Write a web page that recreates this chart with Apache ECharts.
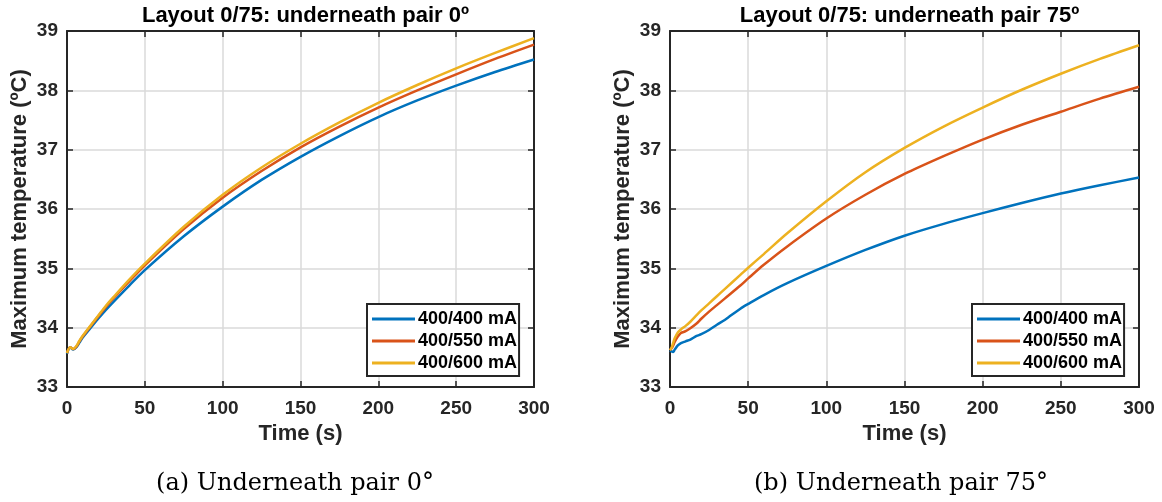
<!DOCTYPE html>
<html>
<head>
<meta charset="utf-8">
<script src="https://cdn.jsdelivr.net/npm/echarts@6/dist/echarts.min.js"></script>
<style>html,body{margin:0;padding:0;background:#fff}#c{width:1162px;height:502px}</style>
</head>
<body>
<div id="c"></div>
<script>
// ---- data ----
const seriesNames = ['400/400 mA', '400/550 mA', '400/600 mA'];
const xTicks = [0, 50, 100, 150, 200, 250, 300];
const yTicks = [33, 34, 35, 36, 37, 38, 39];
const titles = ['Layout 0/75: underneath pair 0º', 'Layout 0/75: underneath pair 75º'];
const captions = ['(a) Underneath pair 0°', '(b) Underneath pair 75°'];
const xName = 'Time (s)';
const yName = 'Maximum temperature (ºC)';

const timeL = [0, 2, 4, 6, 8, 10, 15, 20, 25, 30, 40, 50, 75, 100, 125, 150, 175, 200, 225, 250, 275, 300];
const blueL = [33.56, 33.67, 33.63, 33.67, 33.75, 33.83, 33.99, 34.15, 34.30, 34.44, 34.71, 34.97, 35.54, 36.04, 36.49, 36.88, 37.23, 37.55, 37.83, 38.08, 38.31, 38.52];
const redL = [33.57, 33.67, 33.64, 33.68, 33.77, 33.85, 34.02, 34.19, 34.35, 34.50, 34.78, 35.05, 35.66, 36.19, 36.64, 37.04, 37.39, 37.71, 38.00, 38.27, 38.53, 38.77];
const yellowL = [33.57, 33.67, 33.64, 33.69, 33.78, 33.86, 34.03, 34.20, 34.37, 34.52, 34.81, 35.08, 35.70, 36.24, 36.70, 37.10, 37.46, 37.79, 38.09, 38.37, 38.63, 38.88];

const timeR = [0, 1, 2, 3, 5, 7, 10, 13, 17, 20, 25, 30, 35, 45, 50, 60, 75, 100, 125, 150, 175, 200, 225, 250, 275, 300];
const blueR = [33.62, 33.60, 33.59, 33.63, 33.70, 33.74, 33.77, 33.80, 33.86, 33.89, 33.96, 34.05, 34.13, 34.32, 34.40, 34.55, 34.75, 35.04, 35.31, 35.55, 35.75, 35.93, 36.10, 36.26, 36.40, 36.53];
const redR = [33.62, 33.65, 33.70, 33.76, 33.85, 33.91, 33.94, 33.99, 34.07, 34.15, 34.27, 34.38, 34.49, 34.71, 34.83, 35.06, 35.37, 35.84, 36.24, 36.59, 36.89, 37.17, 37.42, 37.64, 37.86, 38.06];
const yellowR = [33.62, 33.66, 33.74, 33.82, 33.92, 33.97, 34.03, 34.10, 34.21, 34.29, 34.41, 34.53, 34.65, 34.89, 35.01, 35.24, 35.59, 36.13, 36.62, 37.03, 37.39, 37.71, 38.01, 38.28, 38.53, 38.76];

// ---- styling ----
const colors = ['#0072BD', '#D95319', '#EDB120'];
const ink = '#262626';
const font = '"Liberation Sans", Arial, sans-serif';
const grids = [
  { left: 67, right: 628, top: 31, bottom: 115 },
  { left: 670, right: 23, top: 31, bottom: 115 }
];

function pair(t, v) { return t.map((x, i) => [x, v[i]]); }
const dataSets = [[pair(timeL, blueL), pair(timeL, redL), pair(timeL, yellowL)],
                  [pair(timeR, blueR), pair(timeR, redR), pair(timeR, yellowR)]];

const xMin = xTicks[0], xMax = xTicks[xTicks.length - 1];
const yMin = yTicks[0], yMax = yTicks[yTicks.length - 1];

const xAxes = [], yAxes = [], series = [], titleArr = [], legends = [];
grids.forEach((g, gi) => {
  const common = {
    type: 'value', gridIndex: gi,
    axisLine: { show: true, onZero: false, lineStyle: { color: ink, width: 2 } },
    axisTick: { show: true, inside: true, length: 6, lineStyle: { color: ink, width: 1.5 } }
  };
  xAxes.push(Object.assign({}, common, {
    position: 'bottom', min: xMin, max: xMax, interval: 50,
    name: xName, nameLocation: 'middle', nameGap: 36,
    nameTextStyle: { color: ink, fontFamily: font, fontWeight: 'bold', fontSize: 22 },
    axisLabel: { color: ink, fontFamily: font, fontWeight: 'bold', fontSize: 19, margin: 12 },
    splitLine: { show: true, showMinLine: false, showMaxLine: false, lineStyle: { color: '#dadada', width: 1.5 } }
  }));
  xAxes.push(Object.assign({}, common, {
    position: 'top', min: xMin, max: xMax, interval: 50,
    axisLabel: { show: false }, splitLine: { show: false }
  }));
  yAxes.push(Object.assign({}, common, {
    position: 'left', min: yMin, max: yMax, interval: 1,
    name: yName, nameLocation: 'middle', nameGap: 36, nameRotate: 90,
    nameTextStyle: { color: ink, fontFamily: font, fontWeight: 'bold', fontSize: 22 },
    axisLabel: { color: ink, fontFamily: font, fontWeight: 'bold', fontSize: 19, margin: 9 },
    splitLine: { show: true, showMinLine: false, showMaxLine: false, lineStyle: { color: '#dadada', width: 1.5 } }
  }));
  yAxes.push(Object.assign({}, common, {
    position: 'right', min: yMin, max: yMax, interval: 1,
    axisLabel: { show: false }, splitLine: { show: false }
  }));
  seriesNames.forEach((n, si) => {
    series.push({
      type: 'line', name: n, xAxisIndex: gi * 2, yAxisIndex: gi * 2,
      data: dataSets[gi][si], showSymbol: false, symbol: 'none',
      smooth: 0.3,
      lineStyle: { color: colors[si], width: 2.5 }, itemStyle: { color: colors[si] },
      z: 3 + si
    });
  });
  titleArr.push({
    text: titles[gi], left: (gi === 0 ? 67 + 233.5 : 670 + 234.5), top: 0, textAlign: 'center',
    textStyle: { color: '#000', fontFamily: font, fontWeight: 'bold', fontSize: 22 }
  });
  titleArr.push({
    text: captions[gi], left: (gi === 0 ? 290 : 896), top: 467, textAlign: 'center',
    textStyle: { color: '#000', fontFamily: '"DejaVu Serif", serif', fontWeight: 'normal', fontSize: 24 }
  });
  legends.push({
    data: seriesNames, orient: 'vertical',
    left: gi === 0 ? 367 : 972, top: 304,
    backgroundColor: '#fff', borderColor: ink, borderWidth: 2, borderRadius: 0,
    padding: [4, 2, 2, 5], itemGap: 0, itemWidth: 43, itemHeight: 3, icon: 'rect',
    textStyle: { color: '#000', fontFamily: font, fontWeight: 'bold', fontSize: 18, lineHeight: 22, padding: [0, 0, 0, -2] },
    selectedMode: false
  });
});

const chart = echarts.init(document.getElementById('c'), null, { renderer: 'canvas' });
chart.setOption({
  animation: false,
  backgroundColor: '#fff',
  title: titleArr,
  legend: legends,
  grid: grids,
  xAxis: xAxes,
  yAxis: yAxes,
  series: series
});
</script>
</body>
</html>
